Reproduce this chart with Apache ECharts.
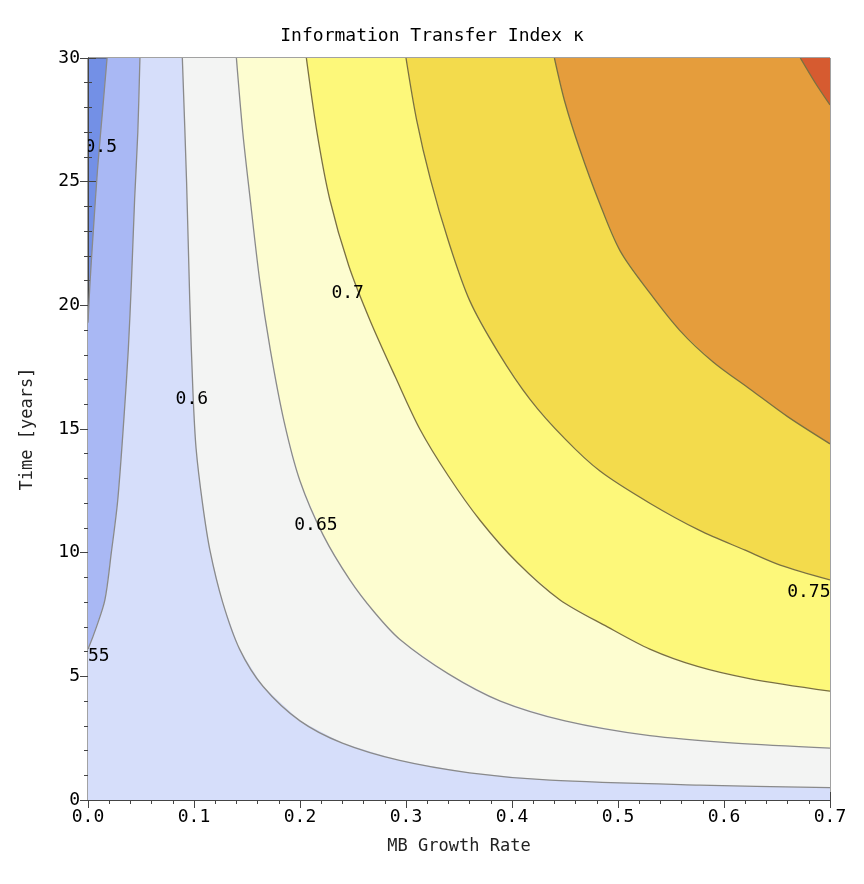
<!DOCTYPE html>
<html><head><meta charset="utf-8">
<script src="https://cdn.jsdelivr.net/npm/echarts@6/dist/echarts.min.js"></script>
<style>html,body{margin:0;padding:0;background:#fff}#c{width:864px;height:884px}</style>
</head><body><div id="c"></div>
<script>
const xTicks = [0,0.1,0.2,0.3,0.4,0.5,0.6,0.7];
const yTicks = [0,5,10,15,20,25,30];
const levels = [0.5,0.55,0.6,0.65,0.7,0.75,0.8,0.85];
const fillColors = ['#7390e6','#a9b8f4','#d6defa','#f3f4f3','#fdfdd0','#fdf87a','#f3db4c','#e59d3c','#d65b30'];
const c050 = [[0.018,30],[0.014,28],[0.009,25.5],[0.005,23],[0.002,21],[0,19.3]];
const c055 = [[0.049,30],[0.047,27],[0.044,24.3],[0.041,21],[0.038,18.2],[0.034,15.5],[0.028,12.1],[0.022,10],[0.016,8.1],[0.008,7],[0,6.1]];
const c060 = [[0.089,30],[0.093,25],[0.096,20.2],[0.099,16.5],[0.102,14.2],[0.108,12],[0.115,10.1],[0.127,8],[0.143,6.1],[0.165,4.6],[0.2,3.2],[0.24,2.3],[0.294,1.6],[0.36,1.1],[0.436,0.8],[0.577,0.6],[0.7,0.5]];
const c065 = [[0.14,30],[0.146,27],[0.153,24.3],[0.162,21],[0.172,18.2],[0.185,15.3],[0.2,12.9],[0.222,10.7],[0.247,8.9],[0.27,7.6],[0.294,6.5],[0.34,5.1],[0.389,4.0],[0.45,3.2],[0.53,2.6],[0.61,2.3],[0.7,2.1]];
const c070 = [[0.206,30],[0.216,27],[0.228,24.3],[0.246,21.6],[0.266,19.4],[0.29,17.1],[0.313,15],[0.34,13.1],[0.37,11.3],[0.405,9.6],[0.445,8.1],[0.49,7.0],[0.53,6.1],[0.575,5.4],[0.625,4.9],[0.7,4.4]];
const c075 = [[0.3,30],[0.31,27.5],[0.323,25.1],[0.34,22.6],[0.36,20.2],[0.387,18.1],[0.417,16.2],[0.45,14.6],[0.483,13.3],[0.53,12],[0.577,10.9],[0.62,10.1],[0.653,9.5],[0.7,8.9]];
const c080 = [[0.44,30],[0.45,28.2],[0.464,26.3],[0.482,24.2],[0.502,22.2],[0.53,20.5],[0.558,19],[0.59,17.7],[0.625,16.6],[0.66,15.5],[0.7,14.4]];
const c085 = [[0.672,30],[0.686,29],[0.7,28.1]];
const contours = [c050,c055,c060,c065,c070,c075,c080,c085];
const labels = [[0.012,26.4,'0.5'],[0.0,5.8,'0.55'],[0.098,16.2,'0.6'],[0.215,11.1,'0.65'],[0.245,20.5,'0.7'],[0.68,8.4,'0.75']];

const chart = echarts.init(document.getElementById('c'));
function polyFor(pts){
  const p = pts.slice();
  const end = pts[pts.length-1];
  if (end[0] === 0) { p.push([0,0]); p.push([0.7,0]); }
  p.push([0.7,30]);
  return p;
}
const series = [];
contours.forEach((pts,i)=>{
  series.push({
    type:'custom', coordinateSystem:'cartesian2d', clip:true, silent:true,
    data:[0], z:2+i,
    renderItem:(params,api)=>{
      const fillPts = polyFor(pts).map(q=>api.coord(q));
      const linePts = pts.map(q=>api.coord(q));
      return {type:'group',children:[
        {type:'polygon',shape:{points:fillPts},style:{fill:fillColors[i+1],stroke:null}},
        {type:'polyline',shape:{points:linePts,smooth:0.3},style:{fill:null,stroke:i<4?'#8a8a8a':'#7a7040',lineWidth:1.3}}
      ]};
    }
  });
});
series.push({
  type:'custom', coordinateSystem:'cartesian2d', clip:true, silent:true, z:20,
  data:labels.map(l=>[l[0],l[1]]),
  renderItem:(params,api)=>{
    const l = labels[params.dataIndex];
    const p = api.coord([l[0],l[1]]);
    return {type:'text',x:p[0],y:p[1],style:{text:l[2],font:'18px "DejaVu Sans Mono"',fill:'#000',align:'center',verticalAlign:'middle'}};
  }
});
const axBase = {
  axisLine:{show:true,lineStyle:{color:'#444'}},
  axisTick:{show:true,inside:true,length:8,lineStyle:{color:'#444'}},
  minorTick:{show:true,splitNumber:5,length:4,lineStyle:{color:'#444'}},
  splitLine:{show:false}
};
chart.setOption({
  animation:false,
  title:{text:'Information Transfer Index κ',left:'center',top:22,textStyle:{fontFamily:'DejaVu Sans Mono',fontWeight:'normal',fontSize:18,color:'#000'}},
  grid:{left:88,right:34,top:58,bottom:84,show:true,backgroundColor:fillColors[0],borderColor:'#444'},
  xAxis:[
    Object.assign({type:'value',min:0,max:0.7,interval:0.1,name:'MB Growth Rate',nameLocation:'middle',nameGap:38,
      nameTextStyle:{fontFamily:'DejaVu Sans Mono',fontSize:17,color:'#222'},
      axisLabel:{fontFamily:'DejaVu Sans Mono',fontSize:18,color:'#000',formatter:v=>v.toFixed(1)}},axBase),
    Object.assign({type:'value',min:0,max:0.7,interval:0.1,position:'top',axisLabel:{show:false}},axBase)
  ],
  yAxis:[
    Object.assign({type:'value',min:0,max:30,interval:5,name:'Time [years]',nameLocation:'middle',nameGap:52,
      nameTextStyle:{fontFamily:'DejaVu Sans Mono',fontSize:17,color:'#222'},
      axisLabel:{fontFamily:'DejaVu Sans Mono',fontSize:18,color:'#000'}},axBase),
    Object.assign({type:'value',min:0,max:30,interval:5,position:'right',axisLabel:{show:false}},axBase)
  ],
  series:series
});
</script></body></html>
